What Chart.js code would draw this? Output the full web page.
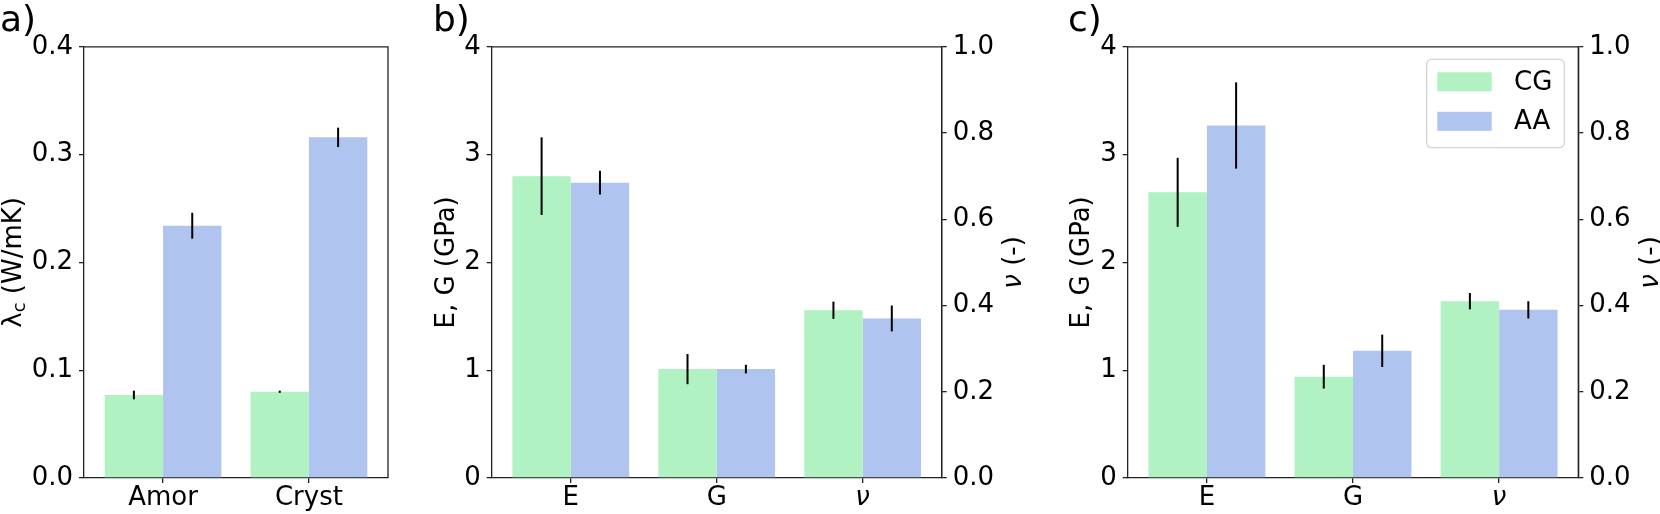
<!DOCTYPE html>
<html>
<head>
<meta charset="utf-8">
<script src="https://cdn.jsdelivr.net/npm/chart.js@4.4.0/dist/chart.umd.min.js"></script>
<style>
  html, body { margin: 0; padding: 0; background: #fff; }
  #wrap { position: relative; width: 1660px; height: 514px; overflow: hidden; }
  canvas { position: absolute; top: 0; }
  .tag { position: absolute; top: 1px; font-family: 'DejaVu Sans'; font-size: 36px; line-height: 36px; }
</style>
</head>
<body>
<div id="wrap">
  <canvas id="pa" width="400" height="514" style="left:0"></canvas>
  <canvas id="pb" width="640" height="514" style="left:400px"></canvas>
  <canvas id="pc" width="620" height="514" style="left:1040px"></canvas>
  <div class="tag" style="left:0">a)</div>
  <div class="tag" style="left:433px">b)</div>
  <div class="tag" style="left:1068px">c)</div>
</div>
<script>
const FONT = 'DejaVu Sans'
const CG_COLOR = '#b0f2c2'
const AA_COLOR = '#b0c4f0'
const AXIS = '#222'

// a) thermal conductivity (W/mK)
const condCategories = ['Amor', 'Cryst']
const condCG = [0.077, 0.080]
const condCGErr = [0.004, 0.001]
const condAA = [0.234, 0.316]
const condAAErr = [0.012, 0.009]

// b), c) E and G in GPa (left axis), nu on the right axis
const mechCategories = ['E', 'G', 'ν']

const bModCG = [2.80, 1.01]
const bModCGErr = [0.36, 0.14]
const bModAA = [2.74, 1.01]
const bModAAErr = [0.11, 0.04]
const bNuCG = [0.389]
const bNuCGErr = [0.02]
const bNuAA = [0.370]
const bNuAAErr = [0.03]

const cModCG = [2.65, 0.94]
const cModCGErr = [0.32, 0.11]
const cModAA = [3.27, 1.18]
const cModAAErr = [0.40, 0.15]
const cNuCG = [0.410]
const cNuCGErr = [0.019]
const cNuAA = [0.390]
const cNuAAErr = [0.02]

Chart.defaults.font.family = FONT
Chart.defaults.font.size = 26
Chart.defaults.color = '#000'
Chart.defaults.animation = false

// place values at category index start, start+1, ...
function pts(values, start) {
  return values.map((v, i) => ({ x: start + i, y: v }))
}

function bars(label, values, errors, start, axis) {
  return {
    label,
    data: pts(values, start),
    errors,
    yAxisID: axis,
    stack: label,
    backgroundColor: label === 'CG' ? CG_COLOR : AA_COLOR,
    borderWidth: 0,
    categoryPercentage: 0.8,
    barPercentage: 1.0
  }
}

const errorBars = {
  id: 'errorBars',
  afterDatasetsDraw(chart) {
    const ctx = chart.ctx
    ctx.save()
    ctx.strokeStyle = '#000'
    ctx.lineWidth = 2
    chart.data.datasets.forEach((ds, di) => {
      const meta = chart.getDatasetMeta(di)
      const scale = chart.scales[meta.yAxisID]
      meta.data.forEach((bar, i) => {
        const v = ds.data[i].y
        const e = ds.errors[i]
        ctx.beginPath()
        ctx.moveTo(bar.x, scale.getPixelForValue(v + e))
        ctx.lineTo(bar.x, scale.getPixelForValue(v - e))
        ctx.stroke()
      })
    })
    ctx.restore()
  }
}

// top / right spines
const frame = {
  id: 'frame',
  afterDraw(chart) {
    const { ctx, chartArea: a } = chart
    ctx.save()
    ctx.strokeStyle = AXIS
    ctx.lineWidth = 1.3
    ctx.beginPath()
    ctx.moveTo(a.left, a.top)
    ctx.lineTo(a.right, a.top)
    ctx.lineTo(a.right, a.bottom)
    ctx.stroke()
    ctx.restore()
  }
}

// vertical axis titles, read bottom to top like matplotlib
const sideTitles = {
  id: 'sideTitles',
  afterDraw(chart, args, opts) {
    const { ctx, chartArea: a } = chart
    const cy = (a.top + a.bottom) / 2
    for (const t of opts.items || []) {
      const x = (t.side === 'left' ? a.left : a.right) + t.offset
      const fontOf = p => (p.italic ? 'italic ' : '') + (p.sub ? 18 : 26) + 'px ' + FONT
      let total = 0
      for (const p of t.parts) { ctx.font = fontOf(p); total += ctx.measureText(p.text).width }
      ctx.save()
      ctx.translate(x, cy)
      ctx.rotate(-Math.PI / 2)
      ctx.fillStyle = '#000'
      ctx.textBaseline = 'alphabetic'
      let px = -total / 2
      for (const p of t.parts) {
        ctx.font = fontOf(p)
        ctx.fillText(p.text, px, p.sub ? 12 : 8)
        px += ctx.measureText(p.text).width
      }
      ctx.restore()
    }
  }
}

const boxLegend = {
  id: 'boxLegend',
  afterDraw(chart, args, opts) {
    if (!opts.show) return
    const { ctx, chartArea: a } = chart
    const w = 137.6, h = 88.4
    const x0 = a.right - 14 - w, y0 = a.top + 12.5
    ctx.save()
    ctx.fillStyle = 'rgba(255,255,255,0.8)'
    ctx.strokeStyle = '#d4d4d4'
    ctx.lineWidth = 1.3
    ctx.beginPath()
    ctx.roundRect(x0, y0, w, h, 5)
    ctx.fill()
    ctx.stroke()
    chart.data.datasets.slice(0, 2).forEach((ds, i) => {
      const cy = y0 + 22.5 + i * 39.5
      ctx.fillStyle = ds.backgroundColor
      ctx.fillRect(x0 + 10.6, cy - 9.5, 54.4, 19)
      ctx.fillStyle = '#000'
      ctx.font = '26px ' + FONT
      ctx.textBaseline = 'middle'
      ctx.fillText(ds.label, x0 + 87.3, cy + 1)
    })
    ctx.restore()
  }
}

function xScale(categories) {
  return {
    type: 'linear',
    offset: false,
    min: -0.542,
    max: categories.length - 1 + 0.542,
    afterBuildTicks: s => { s.ticks = categories.map((c, i) => ({ value: i })) },
    afterFit: s => { s.height = 36 },
    ticks: {
      autoSkip: false,
      maxRotation: 0,
      padding: 0,
      callback: v => categories[v],
      font: c => ({ size: 26, style: categories[c.index] === 'ν' ? 'italic' : 'normal' })
    },
    grid: { offset: false, drawOnChartArea: false, tickLength: 5, color: AXIS, lineWidth: 1.3 },
    border: { color: AXIS, width: 1.3 }
  }
}

function yScale(position, max, step, digits, width) {
  return {
    position,
    min: 0,
    max,
    stacked: false,
    afterFit: s => { s.width = width },
    ticks: { stepSize: step, padding: 6, callback: v => v.toFixed(digits) },
    grid: { drawOnChartArea: false, tickLength: 5, color: AXIS, lineWidth: 1.3 },
    border: { color: AXIS, width: 1.3 }
  }
}

function panel(id, datasets, scales, rightPad, titles, legend) {
  new Chart(document.getElementById(id), {
    type: 'bar',
    data: { datasets },
    options: {
      responsive: false,
      devicePixelRatio: 1,
      layout: { padding: { top: 46.8, bottom: 0, left: 0, right: rightPad } },
      scales,
      plugins: {
        legend: { display: false },
        tooltip: { enabled: false },
        sideTitles: { items: titles },
        boxLegend: { show: legend }
      }
    },
    plugins: [errorBars, frame, sideTitles, boxLegend]
  })
}

const nuTitle = { side: 'right', offset: 71.3, parts: [{ text: 'ν', italic: true }, { text: ' (-)' }] }

panel('pa', [
  bars('CG', condCG, condCGErr, 0, 'y'),
  bars('AA', condAA, condAAErr, 0, 'y')
], {
  x: xScale(condCategories),
  y: yScale('left', 0.4, 0.1, 1, 84)
}, 12, [
  { side: 'left', offset: -71.5, parts: [{ text: 'λ' }, { text: 'c', sub: true }, { text: ' (W/mK)' }] }
], false)

panel('pb', [
  bars('CG', bModCG, bModCGErr, 0, 'y'),
  bars('AA', bModAA, bModAAErr, 0, 'y'),
  bars('CG', bNuCG, bNuCGErr, 2, 'y2'),
  bars('AA', bNuAA, bNuAAErr, 2, 'y2')
], {
  x: xScale(mechCategories),
  y: yScale('left', 4, 1, 0, 91.7),
  y2: yScale('right', 1, 0.2, 1, 98.3)
}, 0, [
  { side: 'left', offset: -45.7, parts: [{ text: 'E, G (GPa)' }] },
  nuTitle
], false)

panel('pc', [
  bars('CG', cModCG, cModCGErr, 0, 'y'),
  bars('AA', cModAA, cModAAErr, 0, 'y'),
  bars('CG', cNuCG, cNuCGErr, 2, 'y2'),
  bars('AA', cNuAA, cNuAAErr, 2, 'y2')
], {
  x: xScale(mechCategories),
  y: yScale('left', 4, 1, 0, 87.7),
  y2: yScale('right', 1, 0.2, 1, 81.7)
}, 0, [
  { side: 'left', offset: -46.7, parts: [{ text: 'E, G (GPa)' }] },
  nuTitle
], true)
</script>
</body>
</html>
